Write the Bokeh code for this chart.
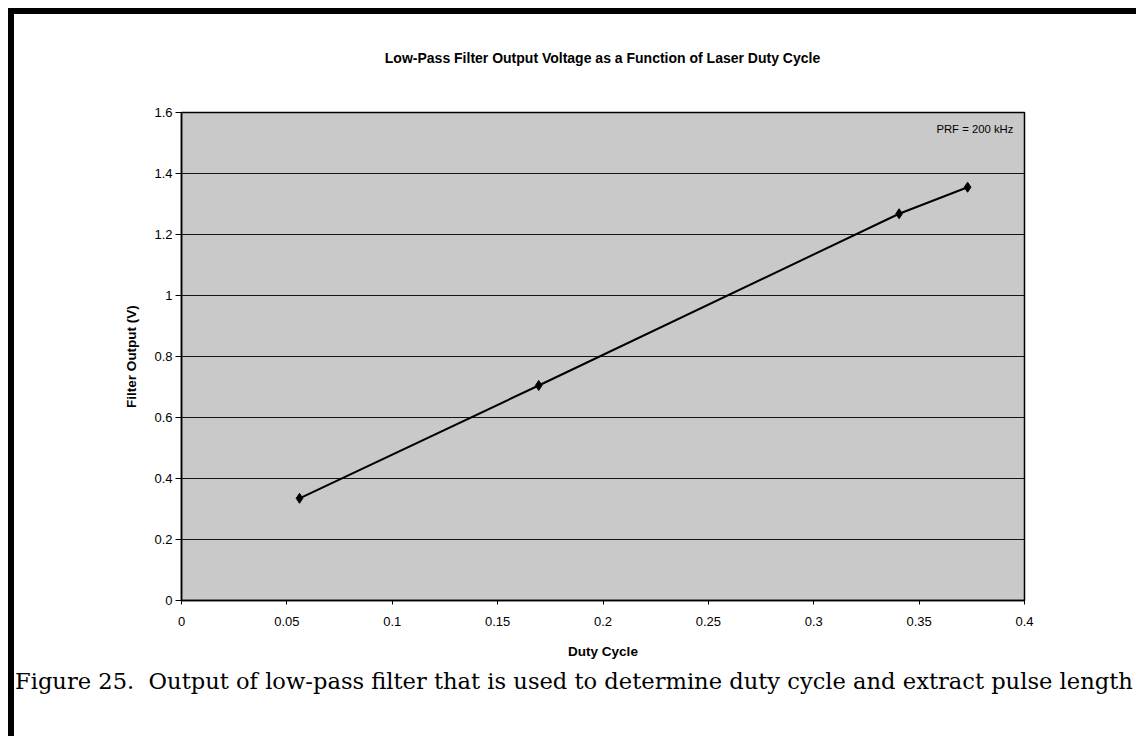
from bokeh.plotting import figure
from bokeh.models import FixedTicker, Label, Range1d, Div
from bokeh.layouts import column
from bokeh.embed import file_html
from bokeh.resources import INLINE

duty_cycle = [0.056, 0.1695, 0.3405, 0.373]
filter_output = [0.335, 0.705, 1.268, 1.355]

x_ticks = [0, 0.05, 0.1, 0.15, 0.2, 0.25, 0.3, 0.35, 0.4]
x_tick_labels = ["0", "0.05", "0.1", "0.15", "0.2", "0.25", "0.3", "0.35", "0.4"]
y_ticks = [0, 0.2, 0.4, 0.6, 0.8, 1.0, 1.2, 1.4, 1.6]
y_tick_labels = ["0", "0.2", "0.4", "0.6", "0.8", "1", "1.2", "1.4", "1.6"]

title_text = "Low-Pass Filter Output Voltage as a Function of Laser Duty Cycle"
note_text = "PRF = 200 kHz"
caption_text = "Figure 25.&nbsp; Output of low-pass filter that is used to determine duty cycle and extract pulse length"

title_div = Div(text=title_text, width=1122, height=60, margin=0,
                styles={"font-family": "Liberation Sans", "font-size": "14px",
                        "font-weight": "bold", "color": "black", "text-align": "center",
                        "padding-top": "36px", "padding-left": "55px",
                        "box-sizing": "border-box", "line-height": "17px",
                        "white-space": "nowrap"})

p = figure(width=1122, height=590, output_backend="svg", toolbar_location=None,
           x_range=Range1d(0, 0.4), y_range=Range1d(0, 1.6),
           min_border_left=167, min_border_right=112, min_border_top=38, min_border_bottom=64,
           background_fill_color="#c9c9c9", border_fill_color="white", margin=0)

p.outline_line_color = "black"
p.outline_line_width = 1.5

for ax in (p.xaxis[0], p.yaxis[0]):
    ax.major_label_text_font = "Liberation Sans"
    ax.major_label_text_font_size = "13px"
    ax.major_label_text_color = "black"
    ax.axis_label_text_font = "Liberation Sans"
    ax.axis_label_text_font_size = "13.5px"
    ax.axis_label_text_font_style = "bold"
    ax.axis_label_text_color = "black"
    ax.axis_line_color = "black"
    ax.axis_line_width = 1.5
    ax.major_tick_line_color = "black"
    ax.major_tick_line_width = 1
    ax.minor_tick_line_color = None
    ax.major_tick_in = 0

p.xaxis.ticker = FixedTicker(ticks=x_ticks)
p.xaxis.major_label_overrides = {t: l for t, l in zip(x_ticks, x_tick_labels)}
p.xaxis.axis_label = "Duty Cycle"
p.xaxis.major_tick_out = 4
p.xaxis.major_label_standoff = 12
p.xaxis.axis_label_standoff = 15

p.yaxis.ticker = FixedTicker(ticks=y_ticks)
p.yaxis.major_label_overrides = {t: l for t, l in zip(y_ticks, y_tick_labels)}
p.yaxis.axis_label = "Filter Output (V)"
p.yaxis.major_tick_out = 6
p.yaxis.major_label_standoff = 3
p.yaxis.axis_label_standoff = 12

p.xgrid.grid_line_color = None
p.ygrid.ticker = FixedTicker(ticks=y_ticks)
p.ygrid.grid_line_color = "black"
p.ygrid.grid_line_width = 1
p.ygrid.grid_line_alpha = 0.9

p.line(duty_cycle, filter_output, line_color="black", line_width=2)
p.scatter(duty_cycle, filter_output, marker="diamond", size=10,
          fill_color="black", line_color="black")

p.add_layout(Label(x=0.3947, y=1.545, text=note_text, text_align="right",
                   text_baseline="middle", text_font="Liberation Sans",
                   text_font_size="11.3px", text_color="black"))

caption = Div(text=caption_text, width=1122, height=72, margin=0,
              styles={"font-family": "DejaVu Serif", "font-size": "22.6px",
                      "color": "black", "padding-top": "1px", "padding-left": "1px",
                      "white-space": "nowrap"})

layout = column(title_div, p, caption, margin=(8, 0, 0, 8),
                styles={"border-left": "6px solid black", "border-top": "6px solid black"})

open("out.html", "w").write(file_html(layout, INLINE))
